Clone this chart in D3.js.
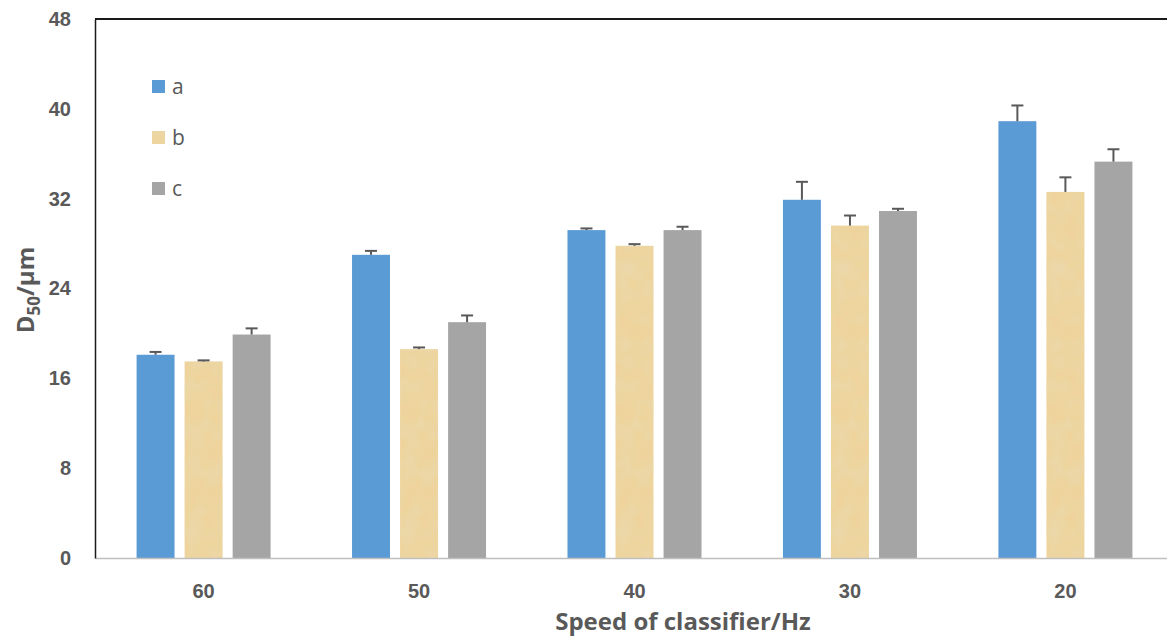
<!DOCTYPE html>
<html>
<head>
<meta charset="utf-8">
<script src="https://cdn.jsdelivr.net/npm/d3@7"></script>
<style>
  body { margin: 0; background: #fff; }
  svg { display: block; font-family: "Open Sans", "Liberation Sans", sans-serif; }
</style>
</head>
<body>
<div id="chart"></div>
<script>
// speeds of classifier (Hz) and the three samples
const speeds = ['60', '50', '40', '30', '20'];
const seriesNames = ['a', 'b', 'c'];
const valuesA = [18.1, 27.0, 29.2, 31.9, 38.9];
const valuesB = [17.5, 18.6, 27.8, 29.6, 32.6];
const valuesC = [19.9, 21.0, 29.2, 30.9, 35.3];
const errA = [0.25, 0.35, 0.15, 1.6, 1.4];
const errB = [0.1, 0.15, 0.15, 0.9, 1.3];
const errC = [0.55, 0.6, 0.3, 0.2, 1.1];
const yTicks = [0, 8, 16, 24, 32, 40, 48];

const width = 1167, height = 638;
const margin = { top: 19, right: -7, bottom: 80, left: 95 };

const svg = d3.select('#chart').append('svg')
    .attr('width', width)
    .attr('height', height);

const defs = svg.append('defs');
// papyrus-like texture for series b
const filt = defs.append('filter').attr('id', 'paper')
    .attr('x', 0).attr('y', 0).attr('width', 1).attr('height', 1);
filt.append('feTurbulence')
    .attr('type', 'fractalNoise')
    .attr('baseFrequency', '0.06 0.05')
    .attr('numOctaves', 3)
    .attr('seed', 7)
    .attr('result', 'noise');
filt.append('feColorMatrix')
    .attr('in', 'noise')
    .attr('type', 'matrix')
    .attr('values', '0 0 0 0 0.82  0 0 0 0 0.69  0 0 0 0 0.42  1.6 0 0 0 -0.6')
    .attr('result', 'tint');
filt.append('feComposite')
    .attr('in', 'tint').attr('in2', 'SourceGraphic').attr('operator', 'in')
    .attr('result', 'spots');
filt.append('feMerge').call(m => {
    m.append('feMergeNode').attr('in', 'SourceGraphic');
    m.append('feMergeNode').attr('in', 'spots');
});

const colors = { a: '#5b9bd5', b: '#eed49c', c: '#a5a5a5' };

const x0 = d3.scaleBand()
    .domain(speeds)
    .range([margin.left, width - margin.right])
    .paddingInner(0.378)
    .paddingOuter(0.193);

const x1 = d3.scaleBand()
    .domain(seriesNames)
    .range([0, x0.bandwidth()])
    .paddingInner(0.21)
    .paddingOuter(0);

const y = d3.scaleLinear()
    .domain([0, 48])
    .range([height - margin.bottom, margin.top]);

const rows = speeds.map((s, i) => ({
    speed: s,
    items: [
        { key: 'a', value: valuesA[i], err: errA[i] },
        { key: 'b', value: valuesB[i], err: errB[i] },
        { key: 'c', value: valuesC[i], err: errC[i] }
    ]
}));

// frame: top line and left axis
svg.append('line')
    .attr('x1', margin.left).attr('x2', width)
    .attr('y1', margin.top).attr('y2', margin.top)
    .attr('stroke', '#1a1a1a').attr('stroke-width', 2);

const groups = svg.append('g').selectAll('g')
    .data(rows)
    .join('g')
    .attr('transform', d => `translate(${x0(d.speed)},0)`);

groups.selectAll('rect')
    .data(d => d.items)
    .join('rect')
    .attr('x', d => x1(d.key))
    .attr('y', d => y(d.value))
    .attr('width', x1.bandwidth())
    .attr('height', d => y(0) - y(d.value))
    .attr('fill', d => colors[d.key])
    .attr('filter', d => d.key === 'b' ? 'url(#paper)' : null);

// error bars (plus side only)
const eb = groups.selectAll('g.err')
    .data(d => d.items)
    .join('g')
    .attr('class', 'err')
    .attr('stroke', '#595959')
    .attr('stroke-width', 2);
eb.append('line')
    .attr('x1', d => x1(d.key) + x1.bandwidth() / 2)
    .attr('x2', d => x1(d.key) + x1.bandwidth() / 2)
    .attr('y1', d => y(d.value))
    .attr('y2', d => y(d.value + d.err));
eb.append('line')
    .attr('x1', d => x1(d.key) + x1.bandwidth() / 2 - 6)
    .attr('x2', d => x1(d.key) + x1.bandwidth() / 2 + 6)
    .attr('y1', d => y(d.value + d.err))
    .attr('y2', d => y(d.value + d.err));

// x axis
const xAxis = svg.append('g')
    .attr('transform', `translate(0,${y(0)})`)
    .call(d3.axisBottom(x0).tickSize(0).tickPadding(26));
xAxis.select('.domain').attr('stroke', '#bfbfbf').attr('stroke-width', 1.5);
xAxis.selectAll('text')
    .attr('fill', '#595959')
    .style('font-size', '20px')
    .style('font-weight', 'bold');

// y axis
const yAxis = svg.append('g')
    .attr('transform', `translate(${margin.left},0)`)
    .call(d3.axisLeft(y).tickValues(yTicks).tickSize(0).tickPadding(24));
yAxis.select('.domain').attr('stroke', '#1a1a1a').attr('stroke-width', 1.5);
yAxis.selectAll('text')
    .attr('fill', '#595959')
    .style('font-size', '20px')
    .style('font-weight', 'bold');

// axis titles
svg.append('text')
    .attr('x', 683).attr('y', 630)
    .attr('text-anchor', 'middle')
    .attr('fill', '#595959')
    .style('font-size', '24px')
    .style('font-weight', 'bold')
    .text('Speed of classifier/Hz');

const yt = svg.append('text')
    .attr('transform', 'translate(34,290) rotate(-90)')
    .attr('text-anchor', 'middle')
    .attr('fill', '#595959')
    .style('font-size', '24px')
    .style('font-weight', 'bold');
yt.append('tspan').text('D');
yt.append('tspan').attr('dy', 6).style('font-size', '17px').text('50');
yt.append('tspan').attr('dy', -6).text('/μm');

// legend
const legend = svg.append('g').selectAll('g')
    .data(seriesNames)
    .join('g')
    .attr('transform', (d, i) => `translate(152,${80 + i * 51})`);
legend.append('rect')
    .attr('width', 13).attr('height', 13)
    .attr('fill', d => colors[d])
    .attr('filter', d => d === 'b' ? 'url(#paper)' : null);
legend.append('text')
    .attr('x', 20).attr('y', 14)
    .attr('fill', '#595959')
    .style('font-size', '21px')
    .text(d => d);
</script>
</body>
</html>
